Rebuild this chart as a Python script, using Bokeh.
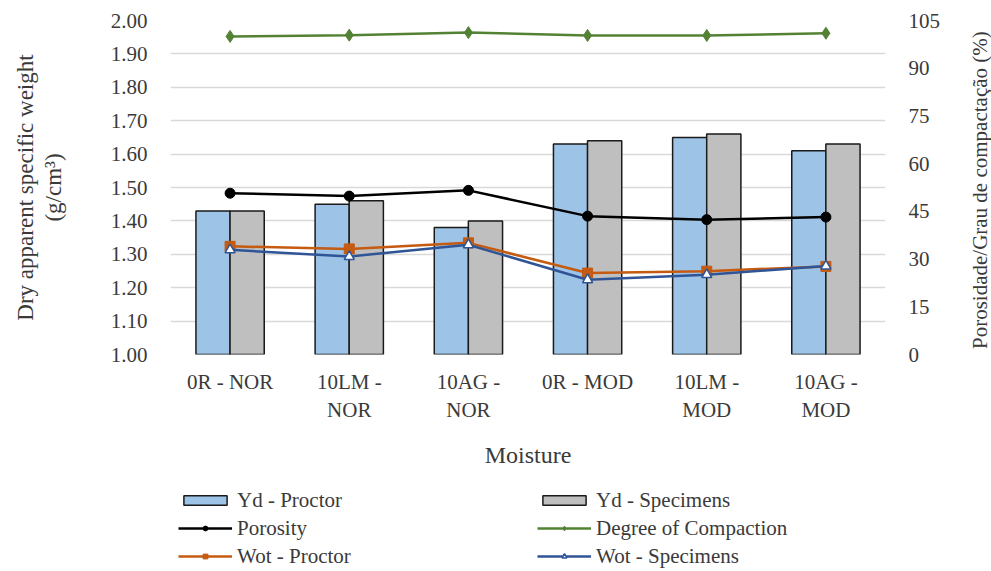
import math
from bokeh.plotting import figure
from bokeh.layouts import column, row
from bokeh.models import (Range1d, LinearAxis, FactorRange, Legend, LegendItem, FixedTicker,
                          CustomJSTickFormatter, Title)
from bokeh.transform import dodge
from bokeh.embed import file_html
from bokeh.resources import INLINE

categories = ["0R - NOR", "10LM -\nNOR", "10AG -\nNOR", "0R - MOD", "10LM -\nMOD", "10AG -\nMOD"]
yd_proctor = [1.43, 1.45, 1.38, 1.63, 1.65, 1.61]
yd_specimens = [1.43, 1.46, 1.40, 1.64, 1.66, 1.63]
porosity = [50.7, 49.8, 51.6, 43.5, 42.4, 43.2]
degree_compaction = [100.0, 100.4, 101.2, 100.3, 100.3, 101.0]
wot_proctor = [34.0, 33.2, 35.1, 25.6, 26.2, 27.7]
wot_specimens = [32.9, 30.8, 34.5, 23.5, 25.1, 27.8]
left_ticks = [1.0, 1.1, 1.2, 1.3, 1.4, 1.5, 1.6, 1.7, 1.8, 1.9, 2.0]
right_ticks = [0, 15, 30, 45, 60, 75, 90, 105]
series_names = ["Yd - Proctor", "Yd - Specimens", "Porosity", "Degree of Compaction",
                "Wot - Proctor", "Wot - Specimens"]

FONT = "Liberation Serif"
TXT = "#3a3a3a"
C_BLUE, C_GRAY, C_BLACK, C_GREEN, C_ORANGE, C_NAVY = (
    "#9DC3E6", "#BFBFBF", "black", "#548235", "#C55A11", "#2F5597")

# ---------------- main chart ----------------
p = figure(width=965, height=485, x_range=FactorRange(*categories, range_padding=0),
           y_range=Range1d(1.0, 2.0), output_backend="svg", toolbar_location=None,
           min_border_left=170, min_border_right=80, min_border_top=20, min_border_bottom=131)
p.extra_y_ranges = {"r": Range1d(0, 105)}
p.outline_line_color = None
p.xgrid.grid_line_color = None
p.ygrid.grid_line_color = "#d9d9d9"
p.ygrid.grid_line_width = 1.5
p.ygrid.ticker = FixedTicker(ticks=left_ticks)

data = dict(cat=categories, yp=yd_proctor, ys=yd_specimens, po=porosity, dc=degree_compaction,
            wp=wot_proctor, ws=wot_specimens)

p.vbar(x=dodge("cat", -0.143, range=p.x_range), top="yp", bottom=1.0, width=0.287,
       source=data, fill_color=C_BLUE, line_color="#1a1a1a", line_width=1.5)
p.vbar(x=dodge("cat", 0.143, range=p.x_range), top="ys", bottom=1.0, width=0.287,
       source=data, fill_color=C_GRAY, line_color="#1a1a1a", line_width=1.5)

p.line("cat", "po", source=data, y_range_name="r", line_color=C_BLACK, line_width=2.5)
p.scatter("cat", "po", source=data, y_range_name="r", marker="circle", size=10,
          fill_color=C_BLACK, line_color=C_BLACK)
p.line("cat", "dc", source=data, y_range_name="r", line_color=C_GREEN, line_width=2.5)
p.scatter("cat", "dc", source=data, y_range_name="r", marker="diamond", size=12,
          fill_color=C_GREEN, line_color=C_GREEN)
p.line("cat", "wp", source=data, y_range_name="r", line_color=C_ORANGE, line_width=2.5)
p.scatter("cat", "wp", source=data, y_range_name="r", marker="square", size=10,
          fill_color=C_ORANGE, line_color=C_ORANGE)
p.line("cat", "ws", source=data, y_range_name="r", line_color=C_NAVY, line_width=2.5)
p.scatter("cat", "ws", source=data, y_range_name="r", marker="triangle", size=10,
          fill_color="white", line_color=C_NAVY, line_width=1.5)

ya = p.yaxis[0]
ya.ticker = FixedTicker(ticks=left_ticks)
ya.formatter = CustomJSTickFormatter(code="return tick.toFixed(2)")
ya.axis_label = "(g/cm\u00b3)"
ya.axis_label_standoff = 42
ya.major_label_standoff = 23

ra = LinearAxis(y_range_name="r", ticker=FixedTicker(ticks=right_ticks))
p.add_layout(ra, "right")
ra.major_label_standoff = 23

xa = p.xaxis[0]
xa.axis_label = "Moisture"
xa.major_label_standoff = 15
xa.axis_label_standoff = 17

for ax in (ya, ra, xa):
    ax.axis_line_color = None
    ax.major_tick_line_color = None
    ax.minor_tick_line_color = None
    ax.major_tick_out = 0
    ax.major_tick_in = 0
    ax.minor_tick_out = 0
    ax.minor_tick_in = 0
    ax.major_label_text_font = FONT
    ax.major_label_text_font_size = "21px"
    ax.major_label_text_color = TXT
    ax.axis_label_text_font = FONT
    ax.axis_label_text_font_style = "normal"
    ax.axis_label_text_color = TXT
    ax.axis_label_text_font_size = "23px"
xa.axis_label_text_font_size = "24px"

p.add_layout(Title(text="Dry apparent specific weight", align="center", standoff=0, offset=0,
                   text_font=FONT, text_font_size="23px", text_font_style="normal",
                   text_color=TXT), "left")

# ---------------- right-hand axis title (reads bottom to top) ----------------
r = figure(width=26, height=485, x_range=Range1d(0, 1), y_range=Range1d(0, 1),
           x_axis_type=None, y_axis_type=None, output_backend="svg", toolbar_location=None,
           min_border_left=0, min_border_right=0, min_border_top=20, min_border_bottom=131,
           outline_line_color=None)
r.grid.visible = False
r.add_layout(Title(text="Porosidade/Grau  de compactação (%)", align="center", standoff=0,
                   offset=0, text_font=FONT, text_font_size="21px", text_font_style="normal",
                   text_color=TXT), "left")

# ---------------- legend panel ----------------
q = figure(width=991, height=86, x_range=Range1d(0, 1), y_range=Range1d(0, 1),
           x_axis_type=None, y_axis_type=None, output_backend="svg", toolbar_location=None,
           min_border=0, outline_line_color=None)
q.grid.visible = False
nan = float("nan")
proxy = dict(x=[nan], y=[nan])
lb1 = q.vbar(x="x", top="y", width=0.1, source=proxy, fill_color=C_BLUE, line_color="#1a1a1a", line_width=1.5)
lb2 = q.vbar(x="x", top="y", width=0.1, source=proxy, fill_color=C_GRAY, line_color="#1a1a1a", line_width=1.5)
lpl = q.line("x", "y", source=proxy, line_color=C_BLACK, line_width=2.5)
lps = q.scatter("x", "y", source=proxy, marker="circle", size=10, fill_color=C_BLACK, line_color=C_BLACK)
ldl = q.line("x", "y", source=proxy, line_color=C_GREEN, line_width=2.5)
lds = q.scatter("x", "y", source=proxy, marker="diamond", size=12, fill_color=C_GREEN, line_color=C_GREEN)
lwl = q.line("x", "y", source=proxy, line_color=C_ORANGE, line_width=2.5)
lws = q.scatter("x", "y", source=proxy, marker="square", size=10, fill_color=C_ORANGE, line_color=C_ORANGE)
lsl = q.line("x", "y", source=proxy, line_color=C_NAVY, line_width=2.5)
lss = q.scatter("x", "y", source=proxy, marker="triangle", size=10, fill_color="white",
                line_color=C_NAVY, line_width=1.5)

legend = Legend(items=[
    LegendItem(label=series_names[0], renderers=[lb1]),
    LegendItem(label=series_names[2], renderers=[lpl, lps]),
    LegendItem(label=series_names[4], renderers=[lwl, lws]),
    LegendItem(label=series_names[1], renderers=[lb2]),
    LegendItem(label=series_names[3], renderers=[ldl, lds]),
    LegendItem(label=series_names[5], renderers=[lsl, lss]),
], ncols=2, location=(178, 1))
legend.background_fill_alpha = 0
legend.border_line_color = None
legend.padding = 0
legend.margin = 0
legend.spacing = 0
legend.glyph_width = 54
legend.glyph_height = 12
legend.label_height = 28
legend.label_width = 300
legend.label_standoff = 5
legend.label_text_font = "Liberation Serif, serif"
legend.label_text_font_style = "normal"
legend.label_text_font_size = "21px"
legend.label_text_color = TXT
q.add_layout(legend, "center")

layout = column(row(p, r, spacing=0), q, spacing=0)
open("out.html", "w").write(file_html(layout, INLINE))
